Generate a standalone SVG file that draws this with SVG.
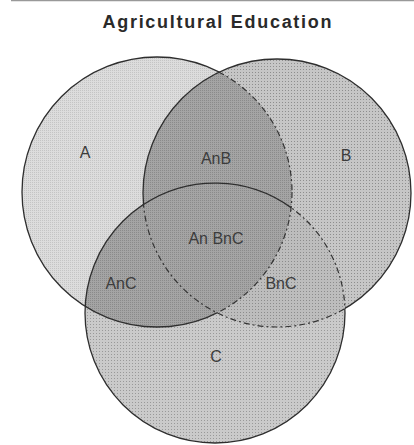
<svg xmlns="http://www.w3.org/2000/svg" width="414" height="445" viewBox="0 0 414 445">
<style>
.lbl{font-family:"Liberation Sans",Arial,sans-serif;font-size:16px;fill:#3c3c3c;text-anchor:middle}
.title{font-family:"Liberation Sans",Arial,sans-serif;font-size:18px;font-weight:bold;fill:#2a2a2a;text-anchor:middle}
.edge{fill:none;stroke:#2e2e2e;stroke-width:1.3}
.dash{fill:none;stroke:#333;stroke-width:1.2;stroke-dasharray:6 3 2 3}
</style>
<defs>
<pattern id="pA" width="2" height="2" patternUnits="userSpaceOnUse"><rect width="2" height="2" fill="#dcdcdc"/><rect width="1" height="1" fill="#c4c4c4"/></pattern>
<pattern id="pB" width="3" height="3" patternUnits="userSpaceOnUse"><rect width="3" height="3" fill="#c6c6c6"/><rect width="1" height="1" fill="#8e8e8e"/></pattern>
<pattern id="pC" width="3" height="3" patternUnits="userSpaceOnUse"><rect width="3" height="3" fill="#cacaca"/><rect width="1" height="1" fill="#999"/></pattern>
<pattern id="pD" width="2" height="2" patternUnits="userSpaceOnUse"><rect width="2" height="2" fill="#a4a4a4"/><rect width="1" height="1" fill="#8a8a8a"/></pattern>
<pattern id="pE" width="3" height="3" patternUnits="userSpaceOnUse"><rect width="3" height="3" fill="#bdbdbd"/><rect width="1" height="1" fill="#8c8c8c"/></pattern>
<clipPath id="cA"><circle cx="157" cy="192" r="135"/></clipPath>
<clipPath id="cB"><circle cx="277" cy="193" r="134"/></clipPath>
<clipPath id="cC"><circle cx="215" cy="313" r="130"/></clipPath>
<mask id="mNotB" maskUnits="userSpaceOnUse" x="0" y="0" width="414" height="445"><rect width="414" height="445" fill="#fff"/><circle cx="277" cy="193" r="134" fill="#000"/></mask>
<mask id="mInB" maskUnits="userSpaceOnUse" x="0" y="0" width="414" height="445"><circle cx="277" cy="193" r="134" fill="#fff"/></mask>
<mask id="mNotC" maskUnits="userSpaceOnUse" x="0" y="0" width="414" height="445"><rect width="414" height="445" fill="#fff"/><circle cx="215" cy="313" r="130" fill="#000"/></mask>
<mask id="mInC" maskUnits="userSpaceOnUse" x="0" y="0" width="414" height="445"><circle cx="215" cy="313" r="130" fill="#fff"/></mask>
<mask id="mCdash" maskUnits="userSpaceOnUse" x="0" y="0" width="414" height="445"><circle cx="277" cy="193" r="134" fill="#fff"/><circle cx="157" cy="192" r="135" fill="#000"/></mask>
</defs>
<rect width="414" height="445" fill="#fff"/>
<line x1="11" y1="0.5" x2="414" y2="0.5" stroke="#999" stroke-width="1.5"/>
<text class="title" x="217" y="28" textLength="229" lengthAdjust="spacing">Agricultural Education</text>
<g id="circleA"><circle cx="157" cy="192" r="135" fill="url(#pA)"/></g>
<g id="circleB"><circle cx="277" cy="193" r="134" fill="url(#pB)"/></g>
<g id="circleC"><circle cx="215" cy="313" r="130" fill="url(#pC)"/></g>
<g id="regionAB" clip-path="url(#cA)"><circle cx="277" cy="193" r="134" fill="url(#pD)"/></g>
<g id="regionAC" clip-path="url(#cA)"><circle cx="215" cy="313" r="130" fill="url(#pD)"/></g>
<g id="regionBC" clip-path="url(#cB)"><circle cx="215" cy="313" r="130" fill="url(#pE)" clip-path="url(#cC)"/></g>
<g id="regionABC" clip-path="url(#cB)"><g clip-path="url(#cC)"><circle cx="157" cy="192" r="135" fill="url(#pD)"/></g></g>
<g id="connectors">
<circle class="edge" cx="157" cy="192" r="135" mask="url(#mNotB)"/>
<circle class="dash" cx="157" cy="192" r="135" mask="url(#mInB)"/>
<circle class="edge" cx="277" cy="193" r="134" mask="url(#mNotC)"/>
<circle class="dash" cx="277" cy="193" r="134" mask="url(#mInC)"/>
<circle class="edge" cx="215" cy="313" r="130" mask="url(#mNotB)"/>
<path class="edge" d="M143.5,204.5 A130,130 0 0 1 291.1,207.6"/>
<circle class="dash" cx="215" cy="313" r="130" mask="url(#mCdash)"/>
</g>
<g id="labels">
<text class="lbl" x="85" y="158">A</text>
<text class="lbl" x="216" y="164">AnB</text>
<text class="lbl" x="346" y="161">B</text>
<text class="lbl" x="216" y="244">An BnC</text>
<text class="lbl" x="121" y="289">AnC</text>
<text class="lbl" x="281" y="289">BnC</text>
<text class="lbl" x="216" y="362">C</text>
</g>
</svg>
